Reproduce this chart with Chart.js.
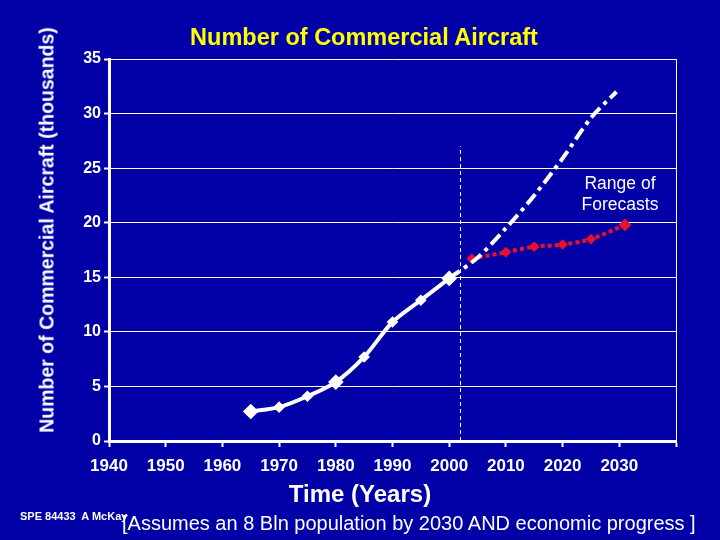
<!DOCTYPE html>
<html>
<head>
<meta charset="utf-8">
<script src="https://cdn.jsdelivr.net/npm/chart.js@4/dist/chart.umd.min.js"></script>
<style>
  html, body { margin: 0; padding: 0; background: #0000a6; }
  #wrap { position: relative; width: 720px; height: 540px; overflow: hidden; font-family: "Liberation Sans", Arial, sans-serif; color: #fff; }
  #wrap canvas { position: absolute; left: 0; top: 0; }
  .txt { position: absolute; white-space: nowrap; }
  #title { left: 364px; top: 37px; transform: translate(-50%, -50%); color: #ffff00; font-weight: bold; font-size: 23.5px; }
  #ytitle { left: 47px; top: 230px; transform: translate(-50%, -50%) rotate(-90deg); font-weight: bold; font-size: 19.5px; }
  #xtitle { left: 360px; top: 494px; transform: translate(-50%, -50%); font-weight: bold; font-size: 24px; }
  #range { left: 620px; top: 194px; transform: translate(-50%, -50%); font-size: 17.5px; text-align: center; line-height: 21px; }
  #src { left: 20px; top: 516px; transform: translateY(-50%); font-weight: bold; font-size: 11px; }
  #note { left: 122px; top: 523px; transform: translateY(-50%); font-size: 20px; }
</style>
</head>
<body>
<div id="wrap">
  <canvas id="chart" width="720" height="540"></canvas>
  <div class="txt" id="title">Number of Commercial Aircraft</div>
  <div class="txt" id="ytitle">Number of Commercial Aircraft (thousands)</div>
  <div class="txt" id="xtitle">Time (Years)</div>
  <div class="txt" id="range">Range of<br>Forecasts</div>
  <div class="txt" id="src">SPE 84433&nbsp; A McKay</div>
  <div class="txt" id="note">[Assumes an 8 Bln population by 2030 AND economic progress ]</div>
</div>
<script>
// historic fleet (thousands)
const histYears = [1965, 1970, 1975, 1980, 1985, 1990, 1995, 2000];
const histValues = [2.7, 3.1, 4.1, 5.4, 7.7, 10.9, 12.9, 14.9];
const bigMarkers = [1965, 1980, 2000];

// high forecast
const highYears = [2000, 2005, 2010, 2015, 2020, 2025, 2029.5];
const highValues = [14.9, 16.8, 19.5, 22.5, 25.9, 29.6, 32.0];

// low forecast
const lowYears = [2004, 2010, 2015, 2020, 2025, 2031];
const lowValues = [16.7, 17.3, 17.8, 18.0, 18.5, 19.8];

// "today" marker
const nowYear = 2002;
const nowTop = 27;

const xTicks = [1940, 1950, 1960, 1970, 1980, 1990, 2000, 2010, 2020, 2030];
const yTicks = [0, 5, 10, 15, 20, 25, 30, 35];

const pts = (xs, ys) => xs.map((x, i) => ({ x: x, y: ys[i] }));
const tickFont = { family: "Liberation Sans", weight: "bold", size: 17 };

new Chart(document.getElementById("chart"), {
    type: "line",
    data: {
        datasets: [
            {
                data: [{ x: nowYear, y: 0 }, { x: nowYear, y: nowTop }],
                borderColor: "#ffffff",
                borderWidth: 1,
                borderDash: [4, 3],
                pointRadius: 0
            },
            {
                data: pts(highYears, highValues),
                borderColor: "#ffffff",
                borderWidth: 4,
                borderDash: [13, 5, 4, 5],
                tension: 0.3,
                pointRadius: 0
            },
            {
                data: pts(lowYears, lowValues),
                borderColor: "#e8102a",
                borderWidth: 4,
                borderDash: [4, 3],
                tension: 0.3,
                pointStyle: "rectRot",
                pointRadius: [2.5, 2.5, 2.5, 2.5, 2.5, 3.5],
                pointBackgroundColor: "#e8102a",
                pointBorderColor: "#e8102a"
            },
            {
                data: pts(histYears, histValues),
                borderColor: "#ffffff",
                borderWidth: 4,
                tension: 0.3,
                pointStyle: "rectRot",
                pointRadius: histYears.map(y => bigMarkers.includes(y) ? 5 : 3),
                pointBackgroundColor: "#ffffff",
                pointBorderColor: "#ffffff"
            }
        ]
    },
    options: {
        responsive: false,
        animation: false,
        devicePixelRatio: 1,
        layout: { padding: { left: 0, top: 59, right: 44, bottom: 0 } },
        plugins: { legend: { display: false }, tooltip: { enabled: false }, title: { display: false } },
        scales: {
            x: {
                type: "linear",
                min: 1940,
                max: 2040,
                afterFit: s => { s.height = 99; },
                afterBuildTicks: s => { s.ticks = xTicks.concat([2040]).map(v => ({ value: v })); },
                border: { color: "#ffffff", width: 3 },
                grid: {
                    color: c => c.tick && c.tick.value === 2040 ? "#ffffff" : "rgba(0,0,0,0)",
                    lineWidth: 1,
                    tickColor: "#ffffff",
                    tickLength: 6,
                    tickWidth: 2
                },
                ticks: {
                    color: "#ffffff",
                    font: tickFont,
                    padding: 9,
                    maxRotation: 0,
                    autoSkip: false,
                    callback: v => xTicks.includes(v) ? String(v) : ""
                }
            },
            y: {
                min: 0,
                max: 35,
                afterFit: s => { s.width = 109; },
                afterBuildTicks: s => { s.ticks = yTicks.map(v => ({ value: v })); },
                border: { color: "#ffffff", width: 3 },
                grid: {
                    color: "#ffffff",
                    lineWidth: 1,
                    tickColor: "#ffffff",
                    tickLength: 5,
                    tickWidth: 2
                },
                ticks: {
                    color: "#ffffff",
                    font: { family: "Liberation Sans", weight: "bold", size: 16 },
                    padding: 3
                }
            }
        }
    }
});
</script>
</body>
</html>
